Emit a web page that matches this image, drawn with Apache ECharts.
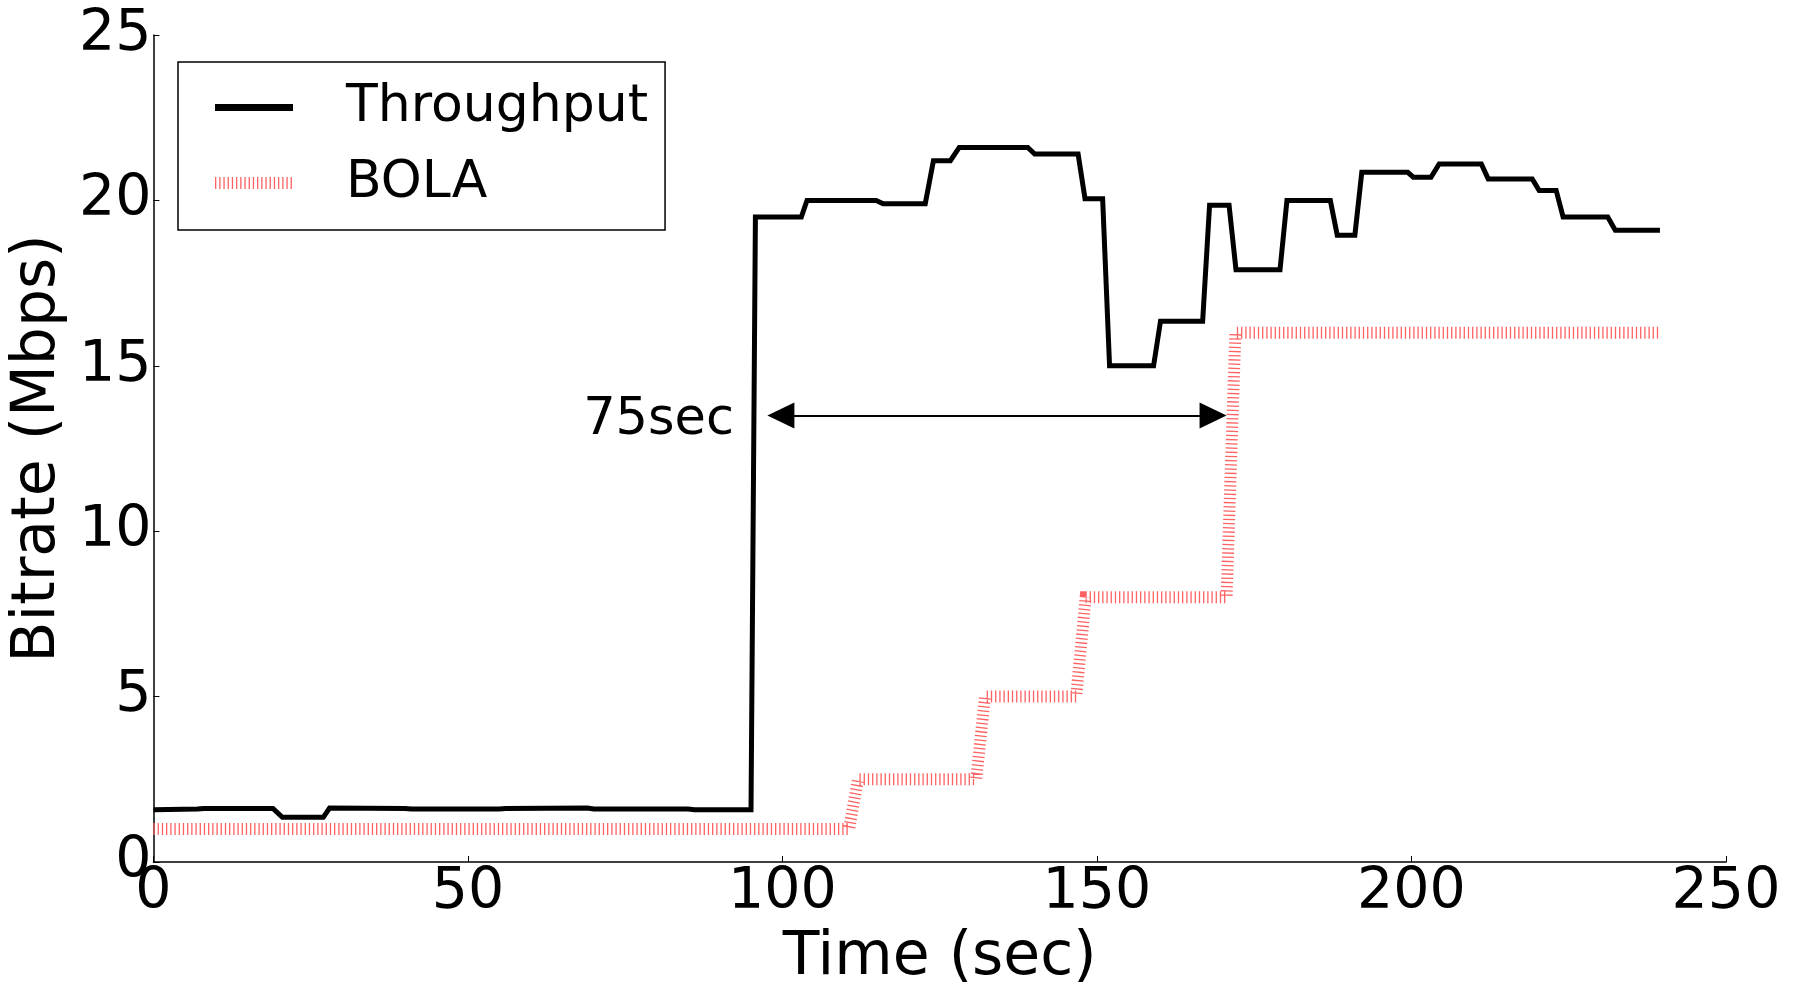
<!DOCTYPE html>
<html>
<head>
<meta charset="utf-8">
<title>Bitrate over time</title>
<script src="https://cdn.jsdelivr.net/npm/echarts@6/dist/echarts.min.js"></script>
<style>
  html, body { margin: 0; padding: 0; background: #fff; }
  #chart { width: 1798px; height: 993px; }
</style>
</head>
<body>
<div id="chart"></div>
<script>
// Measured link throughput (Mbps) against playback time (s)
const throughputTime = [0, 7, 8, 19, 20.5, 27, 28, 40, 41, 55, 56, 69, 70, 85, 86, 95,
  95.7, 103, 103.9, 114.9, 116, 122.7, 124, 126.7, 128.1, 139, 140.1, 147, 148.1, 150.9,
  152, 159, 160.1, 166.8, 167.9, 171, 172.1, 179.1, 180.2, 187.1, 188.2, 191, 192.1,
  199.4, 200.3, 203.1, 204.4, 211.1, 212.2, 219.2, 220.3, 223, 224.1, 231.2, 232.4, 239.5];
const throughputMbps = [1.58, 1.6, 1.62, 1.62, 1.35, 1.35, 1.63, 1.62, 1.6, 1.6, 1.62, 1.63, 1.6, 1.6, 1.58, 1.58,
  19.5, 19.5, 20.0, 20.0, 19.9, 19.9, 21.2, 21.2, 21.6, 21.6, 21.4, 21.4, 20.05, 20.05,
  15.0, 15.0, 16.35, 16.35, 19.85, 19.85, 17.9, 17.9, 20.0, 20.0, 18.95, 18.95, 20.85,
  20.85, 20.7, 20.7, 21.1, 21.1, 20.65, 20.65, 20.3, 20.3, 19.5, 19.5, 19.1, 19.1];

// Bitrate selected by BOLA (Mbps)
const bolaTime = [0, 110.6, 112, 130.8, 132.2, 146.7, 148.2, 170.6, 172, 239.5];
const bolaMbps = [1, 1, 2.5, 2.5, 5, 5, 8, 8, 16, 16];

// Axis ranges and tick spacing
const timeAxis = { min: 0, max: 250, step: 50 };
const rateAxis = { min: 0, max: 25, step: 5 };

// Delay annotation between the throughput jump and the top BOLA level
const gapStart = 97.6;
const gapEnd = 170.6;
const gapLevel = 13.5;
const gapLabel = '75sec';

const FONT = 'DejaVu Sans';
const BOLA_COLOR = '#ff6262';
const BOLA_DASH = [1.3, 2.9];

const throughputData = throughputTime.map((t, i) => [t, throughputMbps[i]]);
const bolaData = bolaTime.map((t, i) => [t, bolaMbps[i]]);

const chart = echarts.init(document.getElementById('chart'), null, { renderer: 'canvas' });

// Arrow heads are centred on their end points, so pull each end in by half a head length
const HEAD_LEN = 27;
const gridLeft = 153, gridRight = 72;
const pxPerSec = (1798 - gridLeft - gridRight) / (timeAxis.max - timeAxis.min);
const headShift = (HEAD_LEN / 2) / pxPerSec;

chart.setOption({
  animation: false,
  backgroundColor: '#ffffff',
  grid: { left: gridLeft, right: gridRight, top: 35, bottom: 125, containLabel: false },
  xAxis: {
    type: 'value',
    min: timeAxis.min, max: timeAxis.max, interval: timeAxis.step,
    name: 'Time (sec)',
    nameLocation: 'middle',
    nameGap: 66,
    nameTextStyle: { fontFamily: FONT, fontSize: 60, color: '#000' },
    axisLine: { show: true, lineStyle: { color: '#000', width: 1.5 } },
    axisTick: { show: true, inside: true, length: 6, lineStyle: { color: '#000', width: 1 } },
    axisLabel: { fontFamily: FONT, fontSize: 57, color: '#000', margin: 3 },
    splitLine: { show: false }
  },
  yAxis: {
    type: 'value',
    min: rateAxis.min, max: rateAxis.max, interval: rateAxis.step,
    name: 'Bitrate (Mbps)',
    nameLocation: 'middle',
    nameGap: 65,
    nameTextStyle: { fontFamily: FONT, fontSize: 60, color: '#000' },
    axisLine: { show: true, lineStyle: { color: '#000', width: 1.5 } },
    axisTick: { show: true, inside: true, length: 6, lineStyle: { color: '#000', width: 1 } },
    axisLabel: { fontFamily: FONT, fontSize: 57, color: '#000', margin: 2, padding: [0, 0, 6, 0] },
    splitLine: { show: false }
  },
  legend: {
    orient: 'vertical',
    left: 178,
    top: 62,
    padding: [15.5, 17, 17, 31],
    itemWidth: 78,
    itemHeight: 14,
    itemGap: 15.5,
    borderColor: '#000',
    borderWidth: 1.5,
    borderRadius: 0,
    itemStyle: { color: 'transparent', borderWidth: 0, opacity: 0 },
    textStyle: { fontFamily: FONT, fontSize: 52, color: '#000', lineHeight: 60, padding: [0, 0, 0, 48] },
    data: [
      { name: 'Throughput', lineStyle: { width: 7, color: '#000' } },
      { name: 'BOLA', lineStyle: { width: 12, type: BOLA_DASH, color: BOLA_COLOR, cap: 'butt' } }
    ]
  },
  series: [
    {
      name: 'BOLA',
      type: 'line',
      data: bolaData,
      showSymbol: false,
      symbol: 'none',
      color: BOLA_COLOR,
      lineStyle: { color: BOLA_COLOR, width: 12, type: BOLA_DASH, cap: 'butt', join: 'miter' },
      z: 2
    },
    {
      name: 'Throughput',
      type: 'line',
      data: throughputData,
      showSymbol: false,
      symbol: 'none',
      color: '#000',
      lineStyle: { color: '#000', width: 5, join: 'miter' },
      z: 3,
      markLine: {
        silent: true,
        symbol: ['triangle', 'triangle'],
        symbolSize: [26, HEAD_LEN],
        label: { show: false },
        lineStyle: { color: '#000', width: 2, type: 'solid' },
        itemStyle: { color: '#000' },
        emphasis: { disabled: true },
        data: [[
          { coord: [gapStart + headShift, gapLevel] },
          { coord: [gapEnd - headShift, gapLevel] }
        ]]
      },
      markPoint: {
        silent: true,
        symbol: 'circle',
        symbolSize: 0,
        label: {
          show: true,
          position: 'left',
          distance: 0,
          formatter: gapLabel,
          fontFamily: FONT,
          fontSize: 51,
          color: '#000'
        },
        data: [{ coord: [92.3, gapLevel - 0.15] }]
      }
    }
  ]
});
</script>
</body>
</html>
